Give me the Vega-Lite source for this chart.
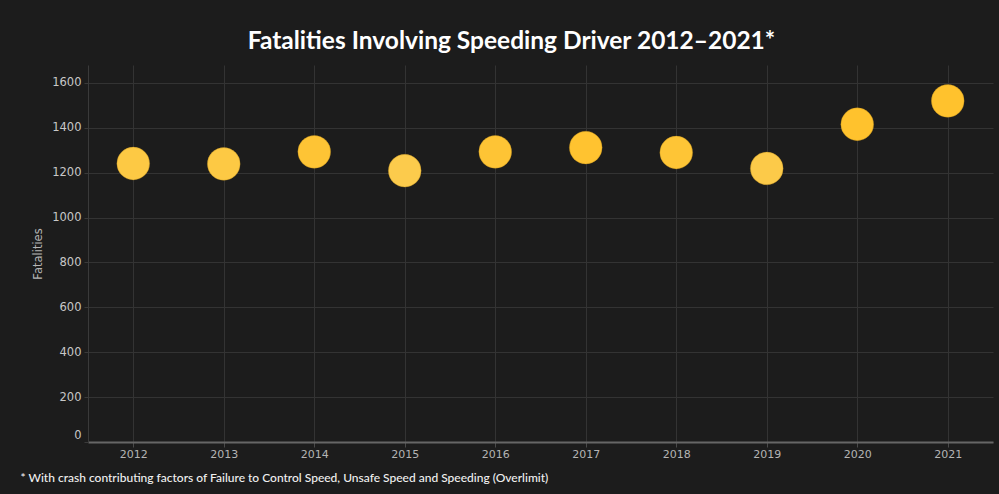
{
  "$schema": "https://vega.github.io/schema/vega-lite/v6.json",
  "autosize": {"type": "none"},
  "width": 905,
  "height": 377,
  "padding": {"left": 88, "top": 65, "right": 6, "bottom": 52},
  "background": "#1c1c1c",
  "title": {
    "text": "Fatalities Involving Speeding Driver 2012–2021*",
    "anchor": "middle",
    "frame": "group",
    "dx": -29,
    "offset": 11,
    "font": "Lato",
    "fontSize": 24.5,
    "fontWeight": "bold",
    "color": "#ffffff"
  },
  "config": {
    "view": {"stroke": null},
    "font": "Lato"
  },
  "data": {
    "values": [
      {"Year": "2012", "Fatalities": 1241},
      {"Year": "2013", "Fatalities": 1239},
      {"Year": "2014", "Fatalities": 1293},
      {"Year": "2015", "Fatalities": 1209},
      {"Year": "2016", "Fatalities": 1293},
      {"Year": "2017", "Fatalities": 1312},
      {"Year": "2018", "Fatalities": 1290},
      {"Year": "2019", "Fatalities": 1219},
      {"Year": "2020", "Fatalities": 1416},
      {"Year": "2021", "Fatalities": 1520}
    ]
  },
  "mark": {"type": "circle", "size": 1075, "opacity": 1, "stroke": "#b8891a", "strokeWidth": 0.6, "strokeOpacity": 0.6},
  "encoding": {
    "x": {
      "field": "Year",
      "type": "ordinal",
      "scale": {"paddingInner": 0, "paddingOuter": 0},
      "axis": {
        "title": "* With crash contributing factors of Failure to Control Speed, Unsafe Speed and Speeding (Overlimit)",
        "titleX": -68,
        "titleY": 35,
        "titleAlign": "left",
        "titleAnchor": null,
        "titleBaseline": "middle",
        "titleFont": "Lato",
        "titleFontSize": 12,
        "titleFontWeight": 500,
        "titleColor": "#f0f0f0",
        "labelAngle": 0,
        "labelFont": "DejaVu Sans",
        "labelColor": "#b4b4b4",
        "labelFontSize": 11,
        "labelPadding": 1,
        "bandPosition": 0,
        "grid": true,
        "gridColor": "#333333",
        "gridWidth": 1,
        "domainColor": "#666666",
        "domainWidth": 2,
        "ticks": true,
        "tickColor": "#4a4a4a",
        "tickSize": 5
      }
    },
    "y": {
      "field": "Fatalities",
      "type": "quantitative",
      "scale": {"domain": [0, 1680], "nice": false, "zero": true},
      "axis": {
        "title": "Fatalities",
        "titleFont": "DejaVu Sans",
        "titleColor": "#b4b4b4",
        "titleFontSize": 11.5,
        "titleFontWeight": "normal",
        "titlePadding": 8,
        "format": "d",
        "values": [0, 200, 400, 600, 800, 1000, 1200, 1400, 1600],
        "labelFont": "DejaVu Sans",
        "labelColor": "#c8c8c8",
        "labelFontSize": 11.5,
        "labelPadding": 3,
        "labelOffset": {"expr": "datum.value == 0 ? -7 : 0"},
        "grid": true,
        "gridColor": "#333333",
        "domainColor": "#3a3a3a",
        "domainWidth": 1,
        "tickColor": "#3a3a3a",
        "tickSize": 4
      }
    },
    "color": {
      "field": "Fatalities",
      "type": "quantitative",
      "scale": {"domain": [1200, 1320], "range": ["#fccc4e", "#ffc22d"], "clamp": true},
      "legend": null
    }
  }
}
